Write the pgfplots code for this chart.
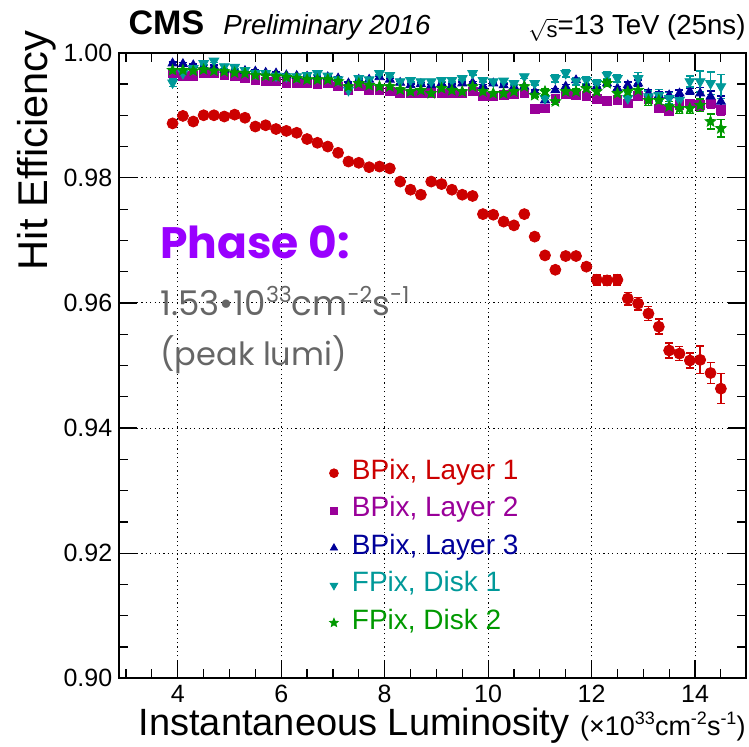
\documentclass[border=0pt]{standalone}
\usepackage{fontspec}
\setmainfont{Liberation Sans}
\newfontfamily\popfont{Poppins}
\usepackage{pgfplots}
\pgfplotsset{compat=1.18}
\usepackage{pgfplotstable}

\definecolor{l1red}{HTML}{CC0000}
\definecolor{l2mag}{HTML}{990099}
\definecolor{l3blue}{HTML}{000099}
\definecolor{d1teal}{HTML}{009999}
\definecolor{d2green}{HTML}{009900}
\definecolor{phaseviolet}{HTML}{9900FF}
\definecolor{notegray}{HTML}{666666}

% raised small text: size, raise, text
\newcommand{\hi}[3]{\raisebox{#2}{\fontsize{#1}{#1}\selectfont #3}}

% filled five-pointed star
\pgfdeclareplotmark{fstar}{%
  \pgfpathmoveto{\pgfpointpolar{90}{\pgfplotmarksize}}%
  \pgfpathlineto{\pgfpointpolar{126}{0.45*\pgfplotmarksize}}%
  \pgfpathlineto{\pgfpointpolar{162}{\pgfplotmarksize}}%
  \pgfpathlineto{\pgfpointpolar{198}{0.45*\pgfplotmarksize}}%
  \pgfpathlineto{\pgfpointpolar{234}{\pgfplotmarksize}}%
  \pgfpathlineto{\pgfpointpolar{270}{0.45*\pgfplotmarksize}}%
  \pgfpathlineto{\pgfpointpolar{306}{\pgfplotmarksize}}%
  \pgfpathlineto{\pgfpointpolar{342}{0.45*\pgfplotmarksize}}%
  \pgfpathlineto{\pgfpointpolar{18}{\pgfplotmarksize}}%
  \pgfpathlineto{\pgfpointpolar{54}{0.45*\pgfplotmarksize}}%
  \pgfpathclose
  \pgfusepathqfillstroke}

% hit efficiency vs instantaneous luminosity: x, efficiency, uncertainty
\pgfplotstableread{
x y e
3.9 0.9887 0.0003
4.1 0.9899 0.0003
4.3 0.9890 0.0003
4.5 0.9900 0.0003
4.7 0.9900 0.0003
4.9 0.9898 0.0003
5.1 0.9901 0.0003
5.3 0.9896 0.0003
5.5 0.9882 0.0003
5.7 0.9884 0.0003
5.9 0.9878 0.0003
6.1 0.9875 0.0003
6.3 0.9872 0.0003
6.5 0.9862 0.0003
6.7 0.9856 0.0003
6.9 0.9850 0.0003
7.1 0.9840 0.0003
7.3 0.9826 0.0003
7.5 0.9824 0.0003
7.7 0.9817 0.0003
7.9 0.9818 0.0003
8.1 0.9815 0.0003
8.3 0.9794 0.0003
8.5 0.9781 0.0003
8.7 0.9773 0.0003
8.9 0.9794 0.0003
9.1 0.9790 0.0003
9.3 0.9781 0.0003
9.5 0.9773 0.0003
9.7 0.9771 0.0003
9.9 0.9742 0.0003
10.1 0.9741 0.0003
10.3 0.9730 0.0003
10.5 0.9724 0.0003
10.7 0.9742 0.0003
10.9 0.9706 0.0004
11.1 0.9676 0.0005
11.3 0.9653 0.0005
11.5 0.9675 0.0005
11.7 0.9675 0.0005
11.9 0.9658 0.0006
12.1 0.9637 0.0008
12.3 0.9636 0.0008
12.5 0.9637 0.0008
12.7 0.9607 0.0010
12.9 0.9599 0.0010
13.1 0.9583 0.0011
13.3 0.9562 0.0012
13.5 0.9524 0.0012
13.7 0.9519 0.0011
13.9 0.9508 0.0012
14.1 0.9509 0.0022
14.3 0.9488 0.0017
14.5 0.9463 0.0024
}\layerone

\pgfplotstableread{
x y e
3.9 0.9967 0.0002
4.1 0.9962 0.0002
4.3 0.9963 0.0002
4.5 0.9967 0.0002
4.7 0.9967 0.0002
4.9 0.9964 0.0002
5.1 0.9962 0.0002
5.3 0.9959 0.0002
5.5 0.9956 0.0002
5.7 0.9954 0.0002
5.9 0.9954 0.0002
6.1 0.9952 0.0002
6.3 0.9951 0.0002
6.5 0.9951 0.0002
6.7 0.9950 0.0002
6.9 0.9951 0.0002
7.1 0.9946 0.0002
7.3 0.9940 0.0002
7.5 0.9946 0.0002
7.7 0.9941 0.0002
7.9 0.9940 0.0002
8.1 0.9938 0.0002
8.3 0.9935 0.0002
8.5 0.9935 0.0002
8.7 0.9935 0.0002
8.9 0.9936 0.0002
9.1 0.9935 0.0002
9.3 0.9935 0.0002
9.5 0.9935 0.0002
9.7 0.9938 0.0002
9.9 0.9930 0.0002
10.1 0.9930 0.0002
10.3 0.9932 0.0002
10.5 0.9934 0.0002
10.7 0.9935 0.0002
10.9 0.9910 0.0002
11.1 0.9911 0.0003
11.3 0.9927 0.0003
11.5 0.9934 0.0003
11.7 0.9932 0.0003
11.9 0.9931 0.0003
12.1 0.9926 0.0003
12.3 0.9923 0.0003
12.5 0.9924 0.0003
12.7 0.9919 0.0005
12.9 0.9931 0.0005
13.1 0.9926 0.0005
13.3 0.9911 0.0005
13.5 0.9907 0.0005
13.7 0.9916 0.0005
13.9 0.9919 0.0005
14.1 0.9916 0.0008
14.3 0.9919 0.0008
14.5 0.9908 0.0008
}\layertwo

\pgfplotstableread{
x y e
3.9 0.9983 0.0002
4.1 0.9982 0.0002
4.3 0.9980 0.0002
4.5 0.9978 0.0002
4.7 0.9978 0.0002
4.9 0.9973 0.0002
5.1 0.9972 0.0002
5.3 0.9971 0.0002
5.5 0.9970 0.0002
5.7 0.9968 0.0002
5.9 0.9967 0.0002
6.1 0.9964 0.0002
6.3 0.9963 0.0002
6.5 0.9962 0.0002
6.7 0.9962 0.0002
6.9 0.9961 0.0002
7.1 0.9959 0.0002
7.3 0.9951 0.0002
7.5 0.9957 0.0002
7.7 0.9957 0.0002
7.9 0.9961 0.0002
8.1 0.9957 0.0002
8.3 0.9952 0.0002
8.5 0.9948 0.0002
8.7 0.9950 0.0002
8.9 0.9948 0.0002
9.1 0.9951 0.0002
9.3 0.9948 0.0002
9.5 0.9951 0.0002
9.7 0.9952 0.0002
9.9 0.9947 0.0002
10.1 0.9951 0.0002
10.3 0.9948 0.0002
10.5 0.9946 0.0002
10.7 0.9946 0.0002
10.9 0.9938 0.0002
11.1 0.9924 0.0003
11.3 0.9940 0.0003
11.5 0.9946 0.0003
11.7 0.9956 0.0003
11.9 0.9948 0.0003
12.1 0.9946 0.0003
12.3 0.9951 0.0003
12.5 0.9943 0.0003
12.7 0.9948 0.0005
12.9 0.9951 0.0005
13.1 0.9935 0.0005
13.3 0.9932 0.0005
13.5 0.9932 0.0005
13.7 0.9935 0.0005
13.9 0.9938 0.0005
14.1 0.9935 0.0009
14.3 0.9930 0.0009
14.5 0.9922 0.0009
}\layerthree

\pgfplotstableread{
x y e
3.9 0.9952 0.0006
4.1 0.9967 0.0003
4.3 0.9975 0.0003
4.5 0.9983 0.0003
4.7 0.9987 0.0003
4.9 0.9978 0.0003
5.1 0.9977 0.0003
5.3 0.9972 0.0003
5.5 0.9967 0.0003
5.7 0.9967 0.0003
5.9 0.9963 0.0003
6.1 0.9962 0.0003
6.3 0.9962 0.0003
6.5 0.9964 0.0003
6.7 0.9967 0.0003
6.9 0.9963 0.0003
7.1 0.9957 0.0003
7.3 0.9940 0.0003
7.5 0.9959 0.0003
7.7 0.9957 0.0003
7.9 0.9967 0.0003
8.1 0.9964 0.0003
8.3 0.9954 0.0003
8.5 0.9956 0.0003
8.7 0.9954 0.0003
8.9 0.9954 0.0003
9.1 0.9956 0.0003
9.3 0.9956 0.0003
9.5 0.9959 0.0003
9.7 0.9967 0.0003
9.9 0.9956 0.0003
10.1 0.9954 0.0003
10.3 0.9955 0.0003
10.5 0.9951 0.0003
10.7 0.9962 0.0003
10.9 0.9951 0.0003
11.1 0.9927 0.0006
11.3 0.9959 0.0006
11.5 0.9967 0.0006
11.7 0.9954 0.0006
11.9 0.9956 0.0006
12.1 0.9951 0.0006
12.3 0.9964 0.0006
12.5 0.9959 0.0006
12.7 0.9927 0.0009
12.9 0.9959 0.0009
13.1 0.9930 0.0009
13.3 0.9932 0.0009
13.5 0.9927 0.0009
13.7 0.9924 0.0009
13.9 0.9954 0.0009
14.1 0.9954 0.0017
14.3 0.9951 0.0018
14.5 0.9946 0.0019
}\diskone

\pgfplotstableread{
x y e
3.9 0.9972 0.0003
4.1 0.9972 0.0003
4.3 0.9971 0.0003
4.5 0.9973 0.0003
4.7 0.9971 0.0003
4.9 0.9970 0.0003
5.1 0.9968 0.0003
5.3 0.9967 0.0003
5.5 0.9964 0.0003
5.7 0.9963 0.0003
5.9 0.9962 0.0003
6.1 0.9961 0.0003
6.3 0.9959 0.0003
6.5 0.9957 0.0003
6.7 0.9957 0.0003
6.9 0.9957 0.0003
7.1 0.9954 0.0003
7.3 0.9946 0.0003
7.5 0.9951 0.0003
7.7 0.9948 0.0003
7.9 0.9946 0.0003
8.1 0.9946 0.0003
8.3 0.9941 0.0003
8.5 0.9938 0.0003
8.7 0.9940 0.0003
8.9 0.9935 0.0003
9.1 0.9943 0.0003
9.3 0.9940 0.0003
9.5 0.9938 0.0003
9.7 0.9946 0.0003
9.9 0.9938 0.0003
10.1 0.9935 0.0003
10.3 0.9935 0.0003
10.5 0.9938 0.0003
10.7 0.9946 0.0003
10.9 0.9932 0.0003
11.1 0.9938 0.0005
11.3 0.9922 0.0005
11.5 0.9938 0.0005
11.7 0.9938 0.0005
11.9 0.9943 0.0005
12.1 0.9938 0.0005
12.3 0.9951 0.0005
12.5 0.9935 0.0005
12.7 0.9938 0.0008
12.9 0.9940 0.0008
13.1 0.9924 0.0008
13.3 0.9924 0.0008
13.5 0.9914 0.0008
13.7 0.9911 0.0008
13.9 0.9911 0.0008
14.1 0.9916 0.0010
14.3 0.9890 0.0012
14.5 0.9879 0.0014
}\disktwo

\begin{document}
\begin{tikzpicture}
\path[use as bounding box] (-59.65pt,-33.85pt) rectangle (314.85pt,339.15pt);
\begin{axis}[
  name=ax,
  scale only axis,
  width=313.2pt, height=312.8pt,
  xmin=2.87, xmax=14.98,
  ymin=0.90, ymax=1.00,
  xtick={4,6,8,10,12,14},
  ytick={0.90,0.92,0.94,0.96,0.98,1.00},
  minor xtick={3,3.5,4.5,5,5.5,6.5,7,7.5,8.5,9,9.5,10.5,11,11.5,12.5,13,13.5,14.5},
  minor ytick={0.905,0.91,0.915,0.925,0.93,0.935,0.945,0.95,0.955,0.965,0.97,0.975,0.985,0.99,0.995},
  tick align=inside,
  major tick length=9pt,
  minor tick length=4.5pt,
  every tick/.style={black, line width=0.6pt},
  axis line style={line width=1pt},
  grid=major,
  major grid style={black, line width=0.5pt, dash pattern=on 0.6pt off 1.6pt},
  tick label style={font=\fontsize{12.5}{12.5}\selectfont},
  /pgf/number format/assume math mode=true,
  yticklabel style={/pgf/number format/fixed, /pgf/number format/fixed zerofill, /pgf/number format/precision=2},
  legend cell align=left,
  legend image code/.code={%
    \draw[#1, every mark/.append style={scale=0.8}] plot coordinates {(0pt,0pt)};
    \path[draw=none, fill=none] (0pt,0pt) -- (7.5pt,0pt);},
  legend style={draw=none, fill=none, at={(rel axis cs:0.335,0.352)}, anchor=north west,
    font=\fontsize{14}{14}\selectfont, inner sep=0pt, row sep=4pt,
    nodes={inner sep=1.5pt, text height=9pt, text depth=2.7pt}},
]
\addplot[only marks, mark=*, color=l1red, mark size=2.75pt,
  error bars/.cd, y dir=both, y explicit,
  error bar style={line width=0.75pt},
  error mark options={rotate=90, mark size=2pt, line width=0.75pt}]
  table[x=x, y=y, y error=e] {\layerone};
\addlegendentry[text=l1red]{BPix, Layer 1}
\addplot[only marks, mark=square*, color=l2mag, mark size=2.2pt,
  error bars/.cd, y dir=both, y explicit,
  error bar style={line width=0.75pt},
  error mark options={rotate=90, mark size=2pt, line width=0.75pt}]
  table[x=x, y=y, y error=e] {\layertwo};
\addlegendentry[text=l2mag]{BPix, Layer 2}
\addplot[only marks, mark=triangle*, color=l3blue, mark size=2.6pt,
  error bars/.cd, y dir=both, y explicit,
  error bar style={line width=0.75pt},
  error mark options={rotate=90, mark size=2pt, line width=0.75pt}]
  table[x=x, y=y, y error=e] {\layerthree};
\addlegendentry[text=l3blue]{BPix, Layer 3}
\addplot[only marks, mark=triangle*, mark options={rotate=180}, color=d1teal, mark size=2.8pt,
  error bars/.cd, y dir=both, y explicit,
  error bar style={line width=0.75pt},
  error mark options={rotate=90, mark size=2pt, line width=0.75pt}]
  table[x=x, y=y, y error=e] {\diskone};
\addlegendentry[text=d1teal]{FPix, Disk 1}
\addplot[only marks, mark=fstar, color=d2green, mark size=2.8pt,
  error bars/.cd, y dir=both, y explicit,
  error bar style={line width=0.75pt},
  error mark options={rotate=90, mark size=2pt, line width=0.75pt}]
  table[x=x, y=y, y error=e] {\disktwo};
\addlegendentry[text=d2green]{FPix, Disk 2}
\end{axis}

% header
\node[anchor=base west, inner sep=0pt, font=\bfseries\fontsize{17}{17}\selectfont]
  at ([shift={(4.5pt,9.0pt)}]ax.north west) {CMS};
\node[anchor=base west, inner sep=0pt, font=\itshape\fontsize{13.8}{13.8}\selectfont]
  at ([shift={(51.85pt,9.0pt)}]ax.north west) {Preliminary 2016};
\node[anchor=base east, inner sep=0pt, font=\fontsize{13.8}{13.8}\selectfont]
  at ([shift={(0.1pt,9.0pt)}]ax.north east) {\raisebox{-1.2pt}{\fontsize{11}{11}\selectfont$\sqrt{\mbox{s}}$}=13 TeV (25ns)};

% axis titles
\node[anchor=base east, rotate=90, inner sep=0pt, font=\fontsize{20.8}{20.8}\selectfont]
  at ([shift={(-36pt,11.35pt)}]ax.north west) {Hit Efficiency};
\node[anchor=base east, inner sep=0pt, font=\fontsize{19}{19}\selectfont]
  at ([shift={(0.1pt,-28.35pt)}]ax.south east)
  {Instantaneous Luminosity {\fontsize{13.5}{13.5}\selectfont(×10\hi{9}{5.5pt}{33}cm\hi{9}{5.5pt}{-2}s\hi{9}{5.5pt}{-1})}};

% annotation
\node[anchor=base west, inner sep=0pt, text=phaseviolet, font=\popfont\fontsize{22}{22}\selectfont\bfseries]
  at ([shift={(20.35pt,210.15pt)}]ax.south west) {Phase 0:};
\node[anchor=base west, inner sep=0pt, text=notegray, font=\popfont\fontsize{17}{17}\selectfont]
  at ([shift={(20.35pt,181.65pt)}]ax.south west) {1.53\textbullet10\hi{11}{6.5pt}{33}cm\hi{11}{6.5pt}{-2}s\hi{11}{6.5pt}{-1}};
\node[anchor=base west, inner sep=0pt, text=notegray, font=\popfont\fontsize{16}{16}\selectfont]
  at ([shift={(20.35pt,156.65pt)}]ax.south west) {(peak lumi)};
\end{tikzpicture}
\end{document}
